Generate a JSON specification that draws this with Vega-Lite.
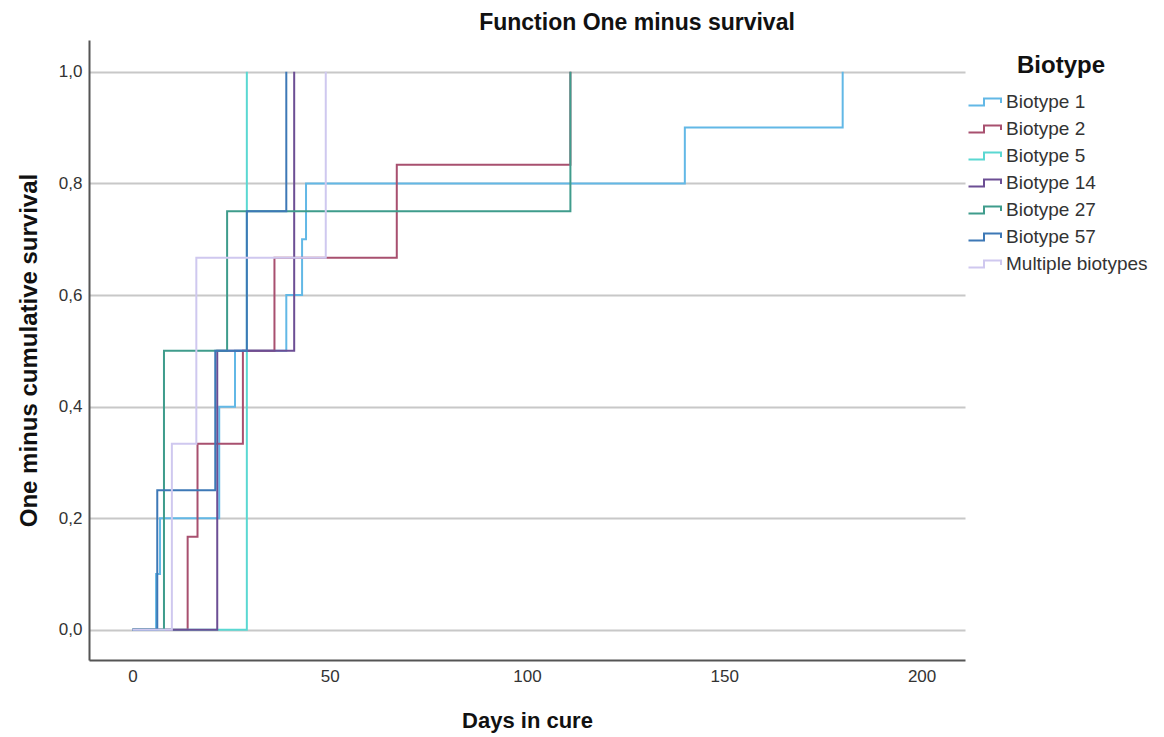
{
  "$schema": "https://vega.github.io/schema/vega-lite/v6.json",
  "width": 876,
  "height": 620,
  "autosize": "none",
  "padding": {"left": 89, "top": 40, "right": 199, "bottom": 77},
  "background": "white",
  "title": {"text": "Function One minus survival", "fontSize": 23, "fontWeight": "bold", "font": "Liberation Sans", "color": "#111111", "anchor": "middle", "offset": 5, "dx": 110},
  "data": {"values": [
    {"biotype": "Biotype 1", "ord": 1, "day": 0, "p": 0},
    {"biotype": "Biotype 1", "ord": 1, "day": 6, "p": 0.1},
    {"biotype": "Biotype 1", "ord": 1, "day": 7, "p": 0.2},
    {"biotype": "Biotype 1", "ord": 1, "day": 22, "p": 0.4},
    {"biotype": "Biotype 1", "ord": 1, "day": 26, "p": 0.5},
    {"biotype": "Biotype 1", "ord": 1, "day": 39, "p": 0.6},
    {"biotype": "Biotype 1", "ord": 1, "day": 43, "p": 0.7},
    {"biotype": "Biotype 1", "ord": 1, "day": 44, "p": 0.8},
    {"biotype": "Biotype 1", "ord": 1, "day": 140, "p": 0.9},
    {"biotype": "Biotype 1", "ord": 1, "day": 180, "p": 1.0},
    {"biotype": "Biotype 2", "ord": 2, "day": 0, "p": 0},
    {"biotype": "Biotype 2", "ord": 2, "day": 14, "p": 0.1667},
    {"biotype": "Biotype 2", "ord": 2, "day": 16.5, "p": 0.3333},
    {"biotype": "Biotype 2", "ord": 2, "day": 28, "p": 0.5},
    {"biotype": "Biotype 2", "ord": 2, "day": 36, "p": 0.6667},
    {"biotype": "Biotype 2", "ord": 2, "day": 67, "p": 0.8333},
    {"biotype": "Biotype 2", "ord": 2, "day": 111, "p": 1.0},
    {"biotype": "Biotype 5", "ord": 3, "day": 0, "p": 0},
    {"biotype": "Biotype 5", "ord": 3, "day": 29, "p": 1.0},
    {"biotype": "Biotype 14", "ord": 4, "day": 0, "p": 0},
    {"biotype": "Biotype 14", "ord": 4, "day": 21.5, "p": 0.5},
    {"biotype": "Biotype 14", "ord": 4, "day": 41, "p": 1.0},
    {"biotype": "Biotype 27", "ord": 5, "day": 0, "p": 0},
    {"biotype": "Biotype 27", "ord": 5, "day": 8, "p": 0.5},
    {"biotype": "Biotype 27", "ord": 5, "day": 24, "p": 0.75},
    {"biotype": "Biotype 27", "ord": 5, "day": 111, "p": 1.0},
    {"biotype": "Biotype 57", "ord": 6, "day": 0, "p": 0},
    {"biotype": "Biotype 57", "ord": 6, "day": 6.3, "p": 0.25},
    {"biotype": "Biotype 57", "ord": 6, "day": 21, "p": 0.5},
    {"biotype": "Biotype 57", "ord": 6, "day": 29, "p": 0.75},
    {"biotype": "Biotype 57", "ord": 6, "day": 39, "p": 1.0},
    {"biotype": "Multiple biotypes", "ord": 7, "day": 0, "p": 0},
    {"biotype": "Multiple biotypes", "ord": 7, "day": 10, "p": 0.3333},
    {"biotype": "Multiple biotypes", "ord": 7, "day": 16.2, "p": 0.6667},
    {"biotype": "Multiple biotypes", "ord": 7, "day": 49, "p": 1.0}
  ]},
  "mark": {"type": "line", "interpolate": "step-after", "strokeWidth": 2, "clip": true},
  "encoding": {
    "x": {"field": "day", "type": "quantitative",
      "scale": {"domain": [-11, 211], "nice": false, "zero": false},
      "axis": {"values": [0, 50, 100, 150, 200], "title": "Days in cure", "titleFontSize": 22, "titleFont": "Liberation Sans", "titleFontWeight": "bold", "titleColor": "#111111", "titlePadding": 26,
        "labelFont": "Liberation Sans", "labelFontSize": 17, "labelColor": "#333333", "labelPadding": 8, "ticks": false, "grid": false,
        "domainColor": "#555555", "domainWidth": 2}},
    "y": {"field": "p", "type": "quantitative",
      "scale": {"domain": [-0.054, 1.057], "nice": false, "zero": false},
      "axis": {"values": [0, 0.2, 0.4, 0.6, 0.8, 1.0], "labelExpr": "replace(format(datum.value, '.1f'), '.', ',')", "title": "One minus cumulative survival", "titleFontSize": 24, "titleFont": "Liberation Sans", "titleFontWeight": "bold", "titleColor": "#111111", "titlePadding": 17,
        "labelFont": "Liberation Sans", "labelFontSize": 17, "labelColor": "#333333", "labelPadding": 7, "ticks": false,
        "grid": true, "gridColor": "#c8c8c8", "gridWidth": 2,
        "domainColor": "#555555", "domainWidth": 2}},
    "color": {"field": "biotype", "type": "nominal",
      "sort": ["Biotype 1", "Biotype 2", "Biotype 5", "Biotype 14", "Biotype 27", "Biotype 57", "Multiple biotypes"],
      "scale": {"domain": ["Biotype 1", "Biotype 2", "Biotype 5", "Biotype 14", "Biotype 27", "Biotype 57", "Multiple biotypes"],
        "range": ["#62b8e6", "#a8506f", "#5ad8d2", "#6c4e94", "#3f9c8c", "#3d78b6", "#cfc8ef"]},
      "legend": {"orient": "none", "legendX": 886, "legendY": 14, "title": "Biotype", "titleFontSize": 24, "titleFont": "Liberation Sans", "titleFontWeight": "bold", "titleColor": "#111111", "titleAnchor": "middle", "titlePadding": 13,
        "labelFont": "Liberation Sans", "labelFontSize": 19, "labelColor": "#333333", "labelOffset": 9, "rowPadding": 6,
        "symbolType": "M-1.75,0.35H-0.2V-0.35H1.5V0.1", "symbolSize": 400, "symbolStrokeWidth": 2, "symbolFillColor": "transparent"}},
    "order": {"field": "ord"}
  },
  "config": {"view": {"stroke": null}, "font": "Liberation Sans"}
}
